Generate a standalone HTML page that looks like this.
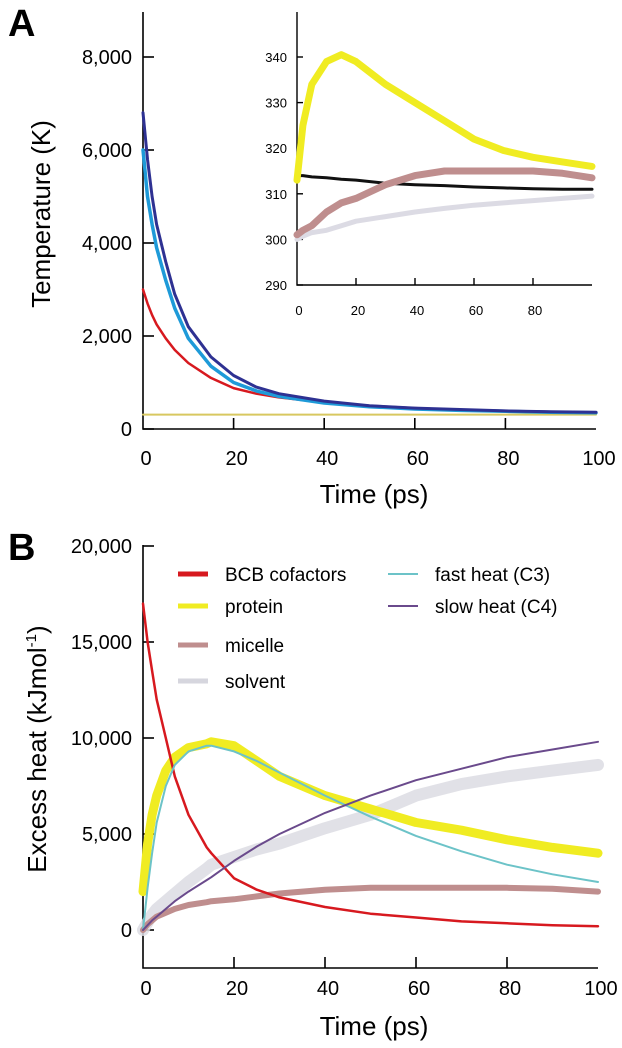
<!DOCTYPE html>
<html><head><meta charset="utf-8"><style>
body{margin:0;background:#fff;}
svg{display:block;font-family:"Liberation Sans",Arial,sans-serif;}
</style></head><body>
<svg id="chart" width="622" height="1048" viewBox="0 0 622 1048">
<g id="gA"></g>
<g id="gIn"></g>
<g id="gB"></g>
</svg>
<script>
// Panel A data (temperature K)
const tA = [0,1,2,3,5,7,10,15,20,25,30,40,50,60,70,80,90,100];
const aDarkBlue = [6800,5800,5000,4400,3600,2900,2200,1550,1150,900,760,600,500,450,420,390,370,360];
const aLightBlue = [6000,5000,4400,3900,3200,2600,1950,1350,1000,820,700,560,480,430,400,380,360,350];
const aRed = [3000,2700,2450,2250,1950,1700,1420,1100,880,760,680,570,500,450,410,390,370,350];
const aFlat = [310,310,310,310,310,310,310,310,310,310,310,310,310,310,310,310,310,310];
const aYTicks = [0,2000,4000,6000,8000];
const aYLabels = ["0","2,000","4,000","6,000","8,000"];
const xTicks = [0,20,40,60,80,100];
// Inset data
const tIn = [0,2,5,10,15,20,30,40,50,60,70,80,90,100];
const inYellow = [313,325,334,339,340.5,339,334,330,326,322,319.5,318,317,316];
const inBlack = [314,314,313.7,313.5,313.2,313,312.3,312,311.8,311.5,311.3,311.1,311,311];
const inMicelle = [301,302,303,306,308,309,312,314,315,315,315,315,314.5,313.5];
const inSolvent = [300,300.7,301.5,302,303,304,305,306,306.8,307.5,308,308.5,309,309.5];
const inYTicks = [290,300,310,320,330,340];
const inXTicks = [0,20,40,60,80];
// Panel B data (excess heat)
const tB = [0,1,2,3,5,7,10,14,15,20,25,30,40,50,60,70,80,90,100];
const bRed = [17000,15000,13500,12000,10000,8000,6000,4300,4000,2700,2100,1700,1200,850,650,450,350,250,200];
const bYellow = [2000,4500,6000,7000,8300,9000,9500,9700,9800,9600,8800,8000,7000,6300,5600,5200,4700,4300,4000];
const bCyan = [0,2200,4000,5600,7500,8600,9300,9600,9600,9300,8800,8200,7000,5900,4900,4100,3400,2900,2500];
const bPurple = [0,250,500,700,1100,1500,2000,2600,2750,3600,4350,5000,6100,7000,7800,8400,9000,9400,9800];
const bMicelle = [0,300,500,700,900,1100,1300,1450,1500,1600,1750,1900,2100,2200,2200,2200,2200,2150,2000];
const bSolvent = [0,400,800,1100,1500,1900,2500,3200,3400,3800,4200,4500,5300,6000,7000,7600,8000,8300,8600];
const bYTicks = [0,5000,10000,15000,20000];
const bYLabels = ["0","5,000","10,000","15,000","20,000"];

const NS="http://www.w3.org/2000/svg";
function mk(parent,tag,attrs,text){const e=document.createElementNS(NS,tag);for(const k in attrs)e.setAttribute(k,attrs[k]);if(text!==undefined)e.textContent=text;parent.appendChild(e);return e;}
function lin(d0,d1,r0,r1){return v=>r0+(v-d0)/(d1-d0)*(r1-r0);}
function series(g,xs,ys,sx,sy,color,w,name,op){
  let d="";xs.forEach((x,i)=>{d+=(i?"L":"M")+sx(x).toFixed(1)+","+sy(ys[i]).toFixed(1);});
  const p=mk(g,"path",{d:d,fill:"none",stroke:color,"stroke-width":w,"stroke-linejoin":"round","stroke-linecap":"round",opacity:op||1});
  
  
}

// ---- Panel A ----
const gA=document.getElementById('gA');
const axA=lin(0,100,143,596), ayA=lin(0,2000,429,336);
const lblA=mk(gA,"text",{x:8,y:36,"font-size":38,"font-weight":"bold"},"A");


mk(gA,"path",{d:"M143,12V429H596",fill:"none",stroke:"#000","stroke-width":1.6});
aYTicks.forEach((v,i)=>{mk(gA,"line",{x1:143,x2:154,y1:ayA(v),y2:ayA(v),stroke:"#000","stroke-width":1.6});
 const t=mk(gA,"text",{x:132,y:ayA(v)+7,"font-size":20,"text-anchor":"end"},aYLabels[i]);
 
 });
xTicks.forEach(v=>{if(v>0&&v<100)mk(gA,"line",{x1:axA(v),x2:axA(v),y1:429,y2:418,stroke:"#000","stroke-width":1.6});
 const t=mk(gA,"text",{x:axA(v)+3,y:465,"font-size":20,"text-anchor":"middle"},String(v));
 
 });
const ytA=mk(gA,"text",{x:0,y:0,"font-size":26,"text-anchor":"middle",transform:"translate(50,214) rotate(-90)"},"Temperature (K)");


const xtA=mk(gA,"text",{x:374,y:503,"font-size":26,"text-anchor":"middle"},"Time (ps)");


series(gA,tA,aFlat,axA,ayA,"#d8c860",2,"a-flat-line");
series(gA,tA,aRed,axA,ayA,"#d7191f",2.5,"a-red-line");
series(gA,tA,aLightBlue,axA,ayA,"#1e9ad8",3.5,"a-light-blue-line");
series(gA,tA,aDarkBlue,axA,ayA,"#2e3192",3,"a-dark-blue-line");

// ---- Inset ----
const gI=document.getElementById('gIn');
const ixI=lin(0,100,297,592), iyI=lin(290,340,285,57);
mk(gI,"path",{d:"M297,12V285H592",fill:"none",stroke:"#000","stroke-width":1.4});
inYTicks.forEach(v=>{mk(gI,"line",{x1:297,x2:303,y1:iyI(v),y2:iyI(v),stroke:"#000","stroke-width":1.4});
 const t=mk(gI,"text",{x:287,y:iyI(v)+5,"font-size":13,"text-anchor":"end"},String(v));
 
 });
inXTicks.forEach(v=>{if(v>0)mk(gI,"line",{x1:ixI(v),x2:ixI(v),y1:285,y2:278,stroke:"#000","stroke-width":1.4});
 const t=mk(gI,"text",{x:ixI(v)+2,y:315,"font-size":13,"text-anchor":"middle"},String(v));
 
 });
series(gI,tIn,inSolvent,ixI,iyI,"#dcdbe4",5,"inset-solvent-line");
series(gI,tIn,inBlack,ixI,iyI,"#111",3,"inset-black-line");
series(gI,tIn,inMicelle,ixI,iyI,"#bf8e8e",7,"inset-micelle-line");
series(gI,tIn,inYellow,ixI,iyI,"#f0ec22",7,"inset-protein-line");

// ---- Panel B ----
const gB=document.getElementById('gB');
const bxB=lin(0,100,143,598), byB=lin(0,5000,930,834);
const lblB=mk(gB,"text",{x:8,y:560,"font-size":38,"font-weight":"bold"},"B");


mk(gB,"path",{d:"M143,545V968H598",fill:"none",stroke:"#000","stroke-width":1.6});
bYTicks.forEach((v,i)=>{mk(gB,"line",{x1:143,x2:154,y1:byB(v),y2:byB(v),stroke:"#000","stroke-width":1.6});
 const t=mk(gB,"text",{x:132,y:byB(v)+7,"font-size":20,"text-anchor":"end"},bYLabels[i]);
 
 });
xTicks.forEach(v=>{if(v>0&&v<100)mk(gB,"line",{x1:bxB(v),x2:bxB(v),y1:968,y2:957,stroke:"#000","stroke-width":1.6});
 const t=mk(gB,"text",{x:bxB(v)+3,y:995,"font-size":20,"text-anchor":"middle"},String(v));
 
 });
const ytB=mk(gB,"text",{x:0,y:0,"font-size":26,"text-anchor":"middle",transform:"translate(46,749) rotate(-90)"});


ytB.textContent="Excess heat (kJmol";
mk(ytB,"tspan",{"font-size":15,dy:-10},"-1");
mk(ytB,"tspan",{dy:10},")");
const xtB=mk(gB,"text",{x:374,y:1035,"font-size":26,"text-anchor":"middle"},"Time (ps)");


series(gB,tB,bSolvent,bxB,byB,"#dcdce3",12,"b-solvent-line",0.85);
series(gB,tB,bMicelle,bxB,byB,"#bf8e8e",6,"b-micelle-line");
series(gB,tB,bYellow,bxB,byB,"#f0ec22",9,"b-protein-line");
series(gB,tB,bRed,bxB,byB,"#d7191f",2.5,"b-bcb-line");
series(gB,tB,bCyan,bxB,byB,"#6cc3c8",2,"b-fast-heat-line");
series(gB,tB,bPurple,bxB,byB,"#6a4a8c",2,"b-slow-heat-line");
// legend
const legNames=["BCB cofactors","protein","micelle","solvent","fast heat (C3)","slow heat (C4)"];
const legColors=["#d7191f","#f0ec22","#bf8e8e","#d6d6de","#6cc3c8","#6a4a8c"];
const legW=[5,5,5,5,2,2];
const legPos=[[178,574],[178,606],[178,645],[178,681],[388,574],[388,606]];
legNames.forEach((n,i)=>{const g=mk(gB,"g",{});
 
 
 mk(g,"line",{x1:legPos[i][0],x2:legPos[i][0]+30,y1:legPos[i][1],y2:legPos[i][1],stroke:legColors[i],"stroke-width":legW[i]});
 mk(g,"text",{x:legPos[i][0]+47,y:legPos[i][1]+7,"font-size":19},n);});
</script>
</body></html>
